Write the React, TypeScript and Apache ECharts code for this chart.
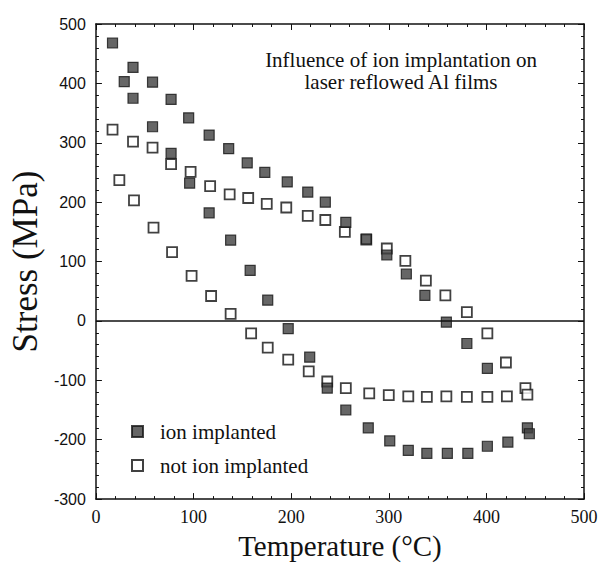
import React, { useEffect, useRef } from "react";
import * as echarts from "echarts";

// Ion implanted (filled squares): [Temperature °C, Stress MPa]
const ionTemp = [17, 38, 58, 77, 95, 116, 136, 155, 173, 196, 217, 235, 256, 277, 298, 318, 337, 359, 380, 401,
  29, 38, 58, 77, 96, 116, 138, 158, 176, 197, 219, 237, 256, 279, 301, 320, 339, 360, 381, 401, 422, 442, 444];
const ionStress = [468, 427, 402, 373, 342, 313, 290, 266, 250, 234, 217, 200, 166, 138, 111, 79, 43, -2, -38, -80,
  403, 375, 327, 282, 232, 182, 136, 85, 35, -13, -61, -113, -150, -180, -202, -218, -223, -223, -223, -211, -204, -180, -190];

// Not ion implanted (open squares)
const notTemp = [17, 38, 58, 77, 97, 117, 137, 156, 175, 195, 217, 235, 255, 277, 298, 317, 338, 358, 380, 401, 420, 440,
  24, 39, 59, 78, 98, 118, 138, 159, 176, 197, 218, 237, 256, 280, 300, 320, 339, 359, 380, 401, 421, 442];
const notStress = [322, 302, 292, 264, 251, 227, 213, 207, 197, 191, 177, 170, 150, 137, 122, 101, 68, 43, 15, -21, -70, -113,
  237, 203, 157, 116, 76, 42, 12, -21, -45, -65, -85, -102, -113, -122, -125, -127, -128, -127, -128, -128, -127, -124];

const xTicks = [0, 100, 200, 300, 400, 500];
const yTicks = [-300, -200, -100, 0, 100, 200, 300, 400, 500];

const seriesNames = ["ion implanted", "not ion implanted"];

export default function App() {
  const ref = useRef<HTMLDivElement>(null);
  useEffect(() => {
    if (!ref.current) return;
    const chart = echarts.init(ref.current, null, { renderer: "svg" });
    const ionData = ionTemp.map((t, i) => [t, ionStress[i]]);
    const notData = notTemp.map((t, i) => [t, notStress[i]]);
    const serif = "Liberation Serif";
    const sans = "Liberation Sans";
    const tickCommon = {
      axisLine: { show: true, onZero: false, lineStyle: { color: "#111", width: 1.5 } },
      axisTick: { show: true, inside: true, length: 6, lineStyle: { color: "#111", width: 1 } },
      minorTick: { show: true, splitNumber: 5, length: 3, lineStyle: { color: "#111", width: 1 } },
      splitLine: { show: false },
    };
    chart.setOption({
      animation: false,
      backgroundColor: "#fff",
      grid: { left: 95, right: 24, top: 24, bottom: 61 },
      title: {
        text: "Influence of ion implantation on\nlaser reflowed Al films",
        left: 396,
        top: 44,
        textAlign: "center",
        textStyle: { fontFamily: serif, fontSize: 21, fontWeight: "normal", color: "#111", lineHeight: 22 },
      },
      legend: {
        data: seriesNames,
        orient: "vertical",
        left: 131,
        top: 421,
        itemWidth: 11,
        itemHeight: 11,
        itemGap: 13,
        padding: 0,
        textStyle: { fontFamily: serif, fontSize: 21, color: "#111", padding: [0, 0, 0, 12] },
      },
      xAxis: [
        {
          type: "value",
          min: xTicks[0],
          max: xTicks[xTicks.length - 1],
          interval: 100,
          name: "Temperature (°C)",
          nameLocation: "middle",
          nameGap: 30,
          nameTextStyle: { fontFamily: serif, fontSize: 29, color: "#111" },
          axisLabel: { fontFamily: serif, fontSize: 18, color: "#111", margin: 9 },
          ...tickCommon,
        },
        {
          type: "value",
          position: "top",
          min: xTicks[0],
          max: xTicks[xTicks.length - 1],
          interval: 100,
          axisLabel: { show: false },
          ...tickCommon,
        },
      ],
      yAxis: [
        {
          type: "value",
          min: yTicks[0],
          max: yTicks[yTicks.length - 1],
          interval: 100,
          name: "Stress (MPa)",
          nameLocation: "middle",
          nameGap: 47,
          nameTextStyle: { fontFamily: serif, fontSize: 35, color: "#111" },
          axisLabel: { fontFamily: sans, fontSize: 16, color: "#111", margin: 10 },
          ...tickCommon,
        },
        {
          type: "value",
          position: "right",
          min: yTicks[0],
          max: yTicks[yTicks.length - 1],
          interval: 100,
          axisLabel: { show: false },
          ...tickCommon,
        },
      ],
      series: [
        {
          name: seriesNames[0],
          type: "scatter",
          symbol: "rect",
          symbolSize: 10,
          data: ionData,
          itemStyle: { color: "#404040", borderColor: "#151515", borderWidth: 1.2 },
          z: 3,
          markLine: {
            silent: true,
            symbol: "none",
            label: { show: false },
            lineStyle: { color: "#111", type: "solid", width: 1.6 },
            data: [{ yAxis: 0 }],
          },
        },
        {
          name: seriesNames[1],
          type: "scatter",
          symbol: "rect",
          symbolSize: 10,
          data: notData,
          itemStyle: { color: "#fff", borderColor: "#111", borderWidth: 1.8 },
          z: 2,
        },
      ],
    });
    return () => chart.dispose();
  }, []);
  return <div ref={ref} style={{ width: 608, height: 565, marginLeft: -8, marginTop: -8 }} />;
}
